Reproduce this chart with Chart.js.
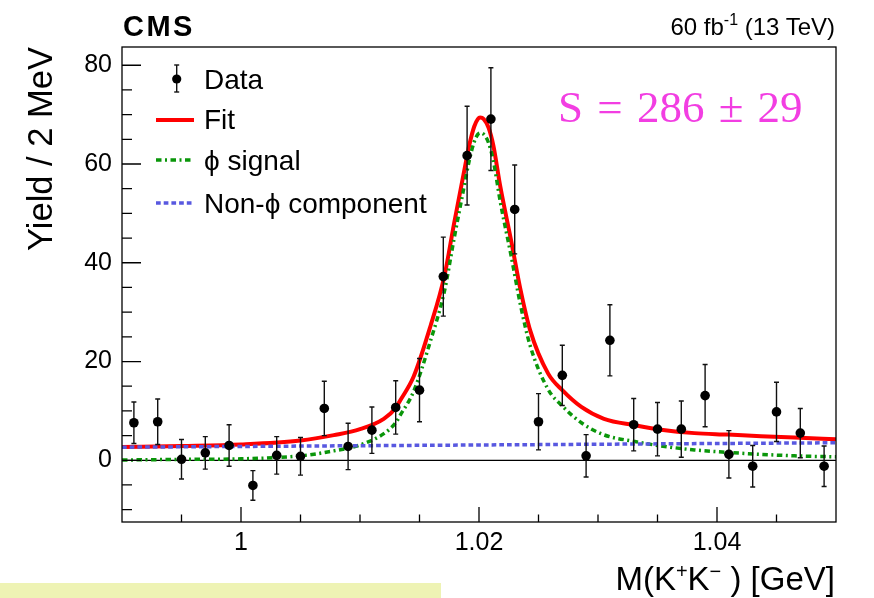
<!DOCTYPE html>
<html>
<head>
<meta charset="utf-8">
<script src="https://cdn.jsdelivr.net/npm/chart.js@4.4.1/dist/chart.umd.min.js"></script>
<style>
  html, body { margin: 0; padding: 0; background: #fff; }
  #page { position: relative; width: 874px; height: 598px; overflow: hidden; background: #fff; }
  #c { position: absolute; left: 0; top: 0; }
  #overlay { position: absolute; left: 0; top: 0; pointer-events: none; }
  #note { position: absolute; left: 0; top: 583px; width: 441px; height: 20px; background: #eef3b4; }
</style>
</head>
<body>
<div id="page">
  <div id="note"></div>
  <canvas id="c" width="874" height="598"></canvas>
  <svg id="overlay" width="874" height="598" xmlns="http://www.w3.org/2000/svg"
       font-family="'Liberation Sans', Arial, Helvetica, sans-serif">
    <!-- header -->
    <text x="123" y="36" font-size="29" font-weight="bold" letter-spacing="2.5">CMS</text>
    <text x="835" y="35" font-size="24" text-anchor="end">60 fb<tspan font-size="16" dy="-10">-1</tspan><tspan dy="10"> (13 TeV)</tspan></text>

    <!-- fitted signal yield -->
    <text x="558" y="122" font-size="45" font-family="'Liberation Serif', 'DejaVu Serif', serif"
          fill="#f23ee2" word-spacing="3">S = 286 ± 29</text>

    <!-- legend -->
    <line x1="176.7" y1="65" x2="176.7" y2="92" stroke="#111" stroke-width="1.4"/>
    <line x1="174.2" y1="65" x2="179.2" y2="65" stroke="#111" stroke-width="1.4"/>
    <line x1="174.2" y1="92" x2="179.2" y2="92" stroke="#111" stroke-width="1.4"/>
    <circle cx="176.7" cy="79" r="4.6" fill="#000"/>
    <text x="204" y="89" font-size="28">Data</text>

    <line x1="156" y1="120" x2="194" y2="120" stroke="#ff0000" stroke-width="4"/>
    <text x="204" y="129" font-size="28">Fit</text>

    <line x1="156" y1="160" x2="194" y2="160" stroke="#0a960a" stroke-width="3.5" stroke-dasharray="5.5 3.5 2 3.5"/>
    <text x="204" y="170" font-size="28">ϕ signal</text>

    <line x1="156" y1="203" x2="194" y2="203" stroke="#5858e0" stroke-width="3.5" stroke-dasharray="4.7 3"/>
    <text x="204" y="212.7" font-size="28">Non-ϕ component</text>

    <!-- axis titles -->
    <text x="835" y="590" font-size="33" text-anchor="end">M(K<tspan font-size="20" dy="-12">+</tspan><tspan dy="12">K</tspan><tspan font-size="20" dy="-12">−</tspan><tspan dy="12"> ) [GeV]</tspan></text>
    <text transform="translate(52,47) rotate(-90)" x="0" y="0" font-size="34.5" text-anchor="end">Yield / 2 MeV</text>
  </svg>
</div>

<script>
// K+K- invariant-mass spectrum, 2 MeV bins from 0.990 to 1.050 GeV
const binCenters = [0.991, 0.993, 0.995, 0.997, 0.999, 1.001, 1.003, 1.005, 1.007, 1.009,
                    1.011, 1.013, 1.015, 1.017, 1.019, 1.021, 1.023, 1.025, 1.027, 1.029,
                    1.031, 1.033, 1.035, 1.037, 1.039, 1.041, 1.043, 1.045, 1.047, 1.049];
const dataYield  = [7.6, 7.8, 0.2, 1.5, 3.0, -5.1, 1.0, 0.8, 10.5, 2.8,
                    6.1, 10.7, 14.2, 37.2, 61.7, 69.1, 50.8, 7.8, 17.2, 0.9,
                    24.3, 7.2, 6.3, 6.3, 13.1, 1.2, -1.2, 9.8, 5.5, -1.2];
const dataError  = [4.2, 4.6, 4.0, 3.3, 4.2, 3.0, 3.8, 3.8, 5.5, 4.7,
                    4.7, 5.4, 6.4, 8.0, 10.0, 10.4, 9.0, 5.7, 6.1, 4.3,
                    7.2, 5.3, 5.4, 5.7, 6.3, 4.8, 4.2, 6.0, 5.0, 4.1];

// total fit and its components, sampled along the mass axis
const curveMass = [0.990, 0.995, 1.000, 1.005, 1.0078, 1.010, 1.012, 1.013, 1.0134, 1.0145,
                   1.0159, 1.0171, 1.0179, 1.0187, 1.0192, 1.0196, 1.0199, 1.0201, 1.0204, 1.0208,
                   1.0212, 1.0218, 1.0227, 1.0235, 1.0243, 1.0258, 1.0270, 1.0286, 1.0305, 1.0331,
                   1.0353, 1.0381, 1.0409, 1.0437, 1.0465, 1.0500];
const fitYield  = [2.7, 2.9, 3.2, 4.0, 5.1, 6.3, 8.4, 10.6, 12.2, 16.9,
                   27.0, 37.4, 47.9, 57.9, 64.0, 67.6, 69.1, 69.4, 69.1, 67.4,
                   63.8, 55.3, 44.5, 34.4, 26.3, 17.6, 14.2, 10.8, 8.4, 7.1,
                   6.2, 5.5, 5.2, 4.86, 4.6, 4.25];
const phiYield  = [0.05, 0.18, 0.3, 0.9, 1.9, 3.1, 5.4, 7.6, 9.2, 13.9,
                   24.0, 34.3, 44.8, 54.8, 60.9, 64.5, 66.0, 66.3, 66.0, 64.3,
                   60.7, 52.2, 41.4, 31.3, 23.2, 14.4, 11.0, 7.6, 5.15, 3.8,
                   2.9, 2.1, 1.6, 1.2, 0.9, 0.7];
const bkgMass   = [0.990, 1.000, 1.010, 1.020, 1.030, 1.040, 1.050];
const bkgYield  = [2.65, 2.8, 2.95, 3.1, 3.25, 3.4, 3.55];

// axis ticks
const xTickValues = [1.00, 1.02, 1.04];
const xTickLabels = ['1', '1.02', '1.04'];
const xMinorTicks = [0.995, 1.005, 1.010, 1.015, 1.025, 1.030, 1.035, 1.045];
const yTickValues = [0, 20, 40, 60, 80];
const yTickLabels = ['0', '20', '40', '60', '80'];
const yMinorTicks = [-10, -5, 5, 10, 15, 25, 30, 35, 45, 50, 55, 65, 70, 75];

const pts = (xs, ys) => xs.map((x, i) => ({ x: x, y: ys[i] }));

// frame, inward tick marks, zero line and data error bars
const rootStyleAxes = {
  id: 'rootStyleAxes',
  beforeDatasetsDraw(chart) {
    const { ctx, chartArea: a, scales: { y } } = chart;
    const y0 = y.getPixelForValue(0);
    ctx.save();
    ctx.strokeStyle = '#000';
    ctx.lineWidth = 1.2;
    ctx.beginPath();
    ctx.moveTo(a.left, y0);
    ctx.lineTo(a.right, y0);
    ctx.stroke();
    ctx.restore();
  },
  beforeDatasetDraw(chart, args) {
    if (args.index !== 0) return;
    const { ctx, scales: { x, y } } = chart;
    ctx.save();
    ctx.strokeStyle = '#111';
    ctx.lineWidth = 1.4;
    binCenters.forEach((m, i) => {
      const px = x.getPixelForValue(m);
      const top = y.getPixelForValue(dataYield[i] + dataError[i]);
      const bot = y.getPixelForValue(dataYield[i] - dataError[i]);
      ctx.beginPath();
      ctx.moveTo(px, top); ctx.lineTo(px, bot);
      ctx.moveTo(px - 2.5, top); ctx.lineTo(px + 2.5, top);
      ctx.moveTo(px - 2.5, bot); ctx.lineTo(px + 2.5, bot);
      ctx.stroke();
    });
    ctx.restore();
  },
  afterDraw(chart) {
    const { ctx, chartArea: a, scales: { x, y } } = chart;
    ctx.save();
    ctx.strokeStyle = '#000';
    ctx.lineWidth = 1.3;
    ctx.strokeRect(a.left, a.top, a.right - a.left, a.bottom - a.top);
    ctx.beginPath();
    xTickValues.forEach(v => { const p = x.getPixelForValue(v); ctx.moveTo(p, a.bottom); ctx.lineTo(p, a.bottom - 15); });
    xMinorTicks.forEach(v => { const p = x.getPixelForValue(v); ctx.moveTo(p, a.bottom); ctx.lineTo(p, a.bottom - 7.5); });
    yTickValues.forEach(v => { const p = y.getPixelForValue(v); ctx.moveTo(a.left, p); ctx.lineTo(a.left + 19, p); });
    yMinorTicks.forEach(v => { const p = y.getPixelForValue(v); ctx.moveTo(a.left, p); ctx.lineTo(a.left + 10, p); });
    ctx.stroke();
    ctx.restore();
  }
};

const tickFont = { family: "'Liberation Sans', Arial, Helvetica, sans-serif", size: 25 };

new Chart(document.getElementById('c'), {
  type: 'scatter',
  data: {
    datasets: [
      { label: 'Data', data: pts(binCenters, dataYield), pointRadius: 4.8, pointHoverRadius: 4.8,
        backgroundColor: '#000', borderWidth: 0, showLine: false },
      { label: 'Non-ϕ component', data: pts(bkgMass, bkgYield), showLine: true, pointRadius: 0,
        borderColor: '#5858e0', borderWidth: 3.5, borderDash: [4.7, 3], fill: false },
      { label: 'ϕ signal', data: pts(curveMass, phiYield), showLine: true, pointRadius: 0,
        borderColor: '#0a960a', borderWidth: 3.5, borderDash: [5.5, 3.5, 2, 3.5],
        cubicInterpolationMode: 'monotone', fill: false },
      { label: 'Fit', data: pts(curveMass, fitYield), showLine: true, pointRadius: 0,
        borderColor: '#ff0000', borderWidth: 4, cubicInterpolationMode: 'monotone', fill: false }
    ]
  },
  options: {
    responsive: false,
    animation: false,
    devicePixelRatio: 1,
    layout: { padding: { left: 0, top: 47, right: 38, bottom: 0 } },
    plugins: { legend: { display: false }, tooltip: { enabled: false } },
    scales: {
      x: {
        type: 'linear', min: 0.99, max: 1.05,
        grid: { display: false, drawTicks: false }, border: { display: false },
        afterBuildTicks: s => { s.ticks = xTickValues.map(v => ({ value: v })); },
        afterFit: s => { s.height = 76; },
        ticks: { font: tickFont, color: '#000', padding: 6, maxRotation: 0, autoSkip: false,
                 callback: v => xTickLabels[xTickValues.indexOf(v)] }
      },
      y: {
        type: 'linear', min: -12.5, max: 83.7,
        grid: { display: false, drawTicks: false }, border: { display: false },
        afterBuildTicks: s => { s.ticks = yTickValues.map(v => ({ value: v })); },
        afterFit: s => { s.width = 122; },
        ticks: { font: tickFont, color: '#000', padding: 10, autoSkip: false,
                 callback: v => yTickLabels[yTickValues.indexOf(v)] }
      }
    }
  },
  plugins: [rootStyleAxes]
});
</script>
</body>
</html>
